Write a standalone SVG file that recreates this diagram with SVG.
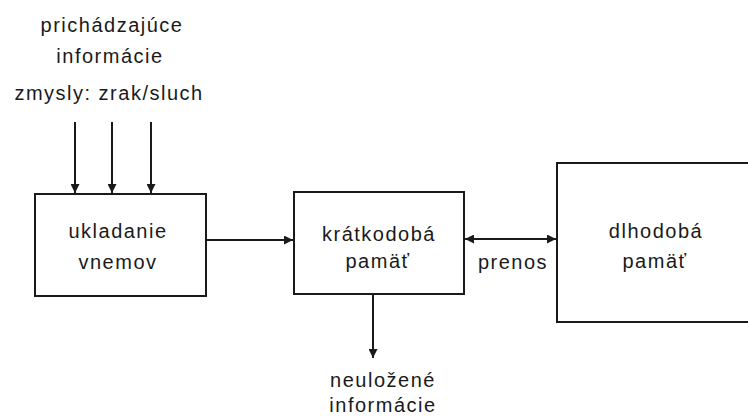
<svg xmlns="http://www.w3.org/2000/svg" width="748" height="416" viewBox="0 0 748 416">
<defs>
<style>
.box{fill:#fff;stroke:#1a1a1a;stroke-width:2}
.ln{fill:none;stroke:#1a1a1a;stroke-width:2}
text{font-family:"Liberation Sans",Arial,sans-serif;font-size:20px;fill:#1a1a1a;text-anchor:middle;letter-spacing:1.5px}
</style>
<marker id="ah" viewBox="0 0 10 10" refX="10" refY="5" markerWidth="9" markerHeight="9" markerUnits="userSpaceOnUse" orient="auto-start-reverse">
<path d="M0,0 L10,5 L0,10 Z" fill="#1a1a1a"/>
</marker>
</defs>
<rect width="748" height="416" fill="#fff"/>
<g id="inputs">
<text x="112" y="32">prichádzajúce</text>
<text x="110" y="63">informácie</text>
<text x="109" y="100">zmysly: zrak/sluch</text>
</g>
<g id="connectors">
<line class="ln" x1="75" y1="122" x2="75" y2="193" marker-end="url(#ah)"/>
<line class="ln" x1="112" y1="122" x2="112" y2="193" marker-end="url(#ah)"/>
<line class="ln" x1="151" y1="122" x2="151" y2="193" marker-end="url(#ah)"/>
<line class="ln" x1="206" y1="240" x2="293" y2="240" marker-end="url(#ah)"/>
<line class="ln" x1="465" y1="239" x2="556" y2="239" marker-start="url(#ah)" marker-end="url(#ah)"/>
<line class="ln" x1="373" y1="294" x2="373" y2="358" marker-end="url(#ah)"/>
</g>
<g id="ukladanie">
<rect class="box" x="35" y="194" width="171" height="102"/>
<text x="118" y="238">ukladanie</text>
<text x="118" y="269">vnemov</text>
</g>
<g id="kratkodoba">
<rect class="box" x="294" y="192" width="170" height="102"/>
<text x="379" y="241">krátkodobá</text>
<text x="378" y="268">pamäť</text>
</g>
<g id="prenos">
<text x="513" y="269">prenos</text>
</g>
<g id="dlhodoba">
<rect class="box" x="557" y="163" width="200" height="159"/>
<text x="656" y="238">dlhodobá</text>
<text x="655" y="268">pamäť</text>
</g>
<g id="neulozene">
<text x="383" y="387">neuložené</text>
<text x="383" y="412">informácie</text>
</g>
</svg>
